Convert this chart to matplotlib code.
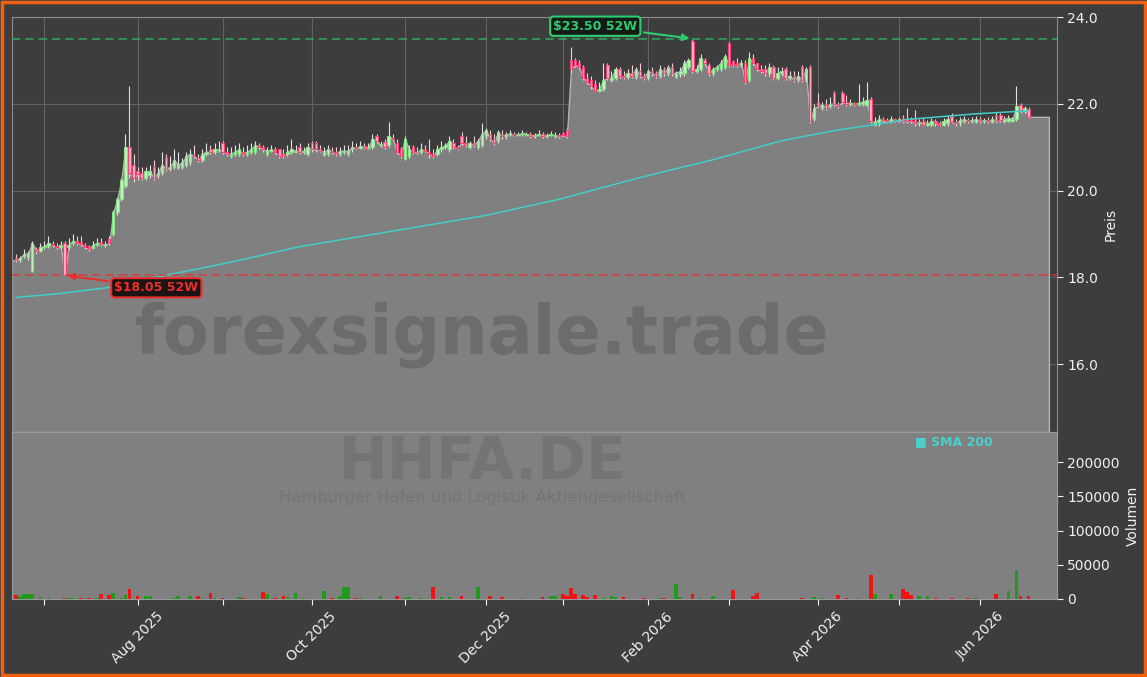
import numpy as np
import pandas as pd
import matplotlib
matplotlib.use("Agg")
import matplotlib.pyplot as plt
from matplotlib.patches import Rectangle
from matplotlib.ticker import FixedLocator, FixedFormatter, FuncFormatter

# ---------------- data ----------------
start_date = "2025-06-20"
end_date = "2026-06-17"
holidays = ["2025-12-24", "2025-12-25", "2025-12-26", "2025-12-31",
            "2026-01-01", "2026-04-03", "2026-04-06", "2026-05-01"]

open_ = [
    18.45, 18.40, 18.50, 18.48, 18.14, 18.65, 18.62, 18.70, 18.72, 18.78,
    18.72, 18.70, 18.80, 18.70, 18.80, 18.85, 18.82, 18.75, 18.72, 18.68,
    18.75, 18.82, 18.75, 18.88, 19.00, 19.50, 19.80, 20.10, 21.00, 20.60,
    20.45, 20.40, 20.30, 20.35, 20.55, 20.35, 20.40, 20.78, 20.50, 20.55,
    20.52, 20.55, 20.60, 20.65, 20.82, 20.75, 20.70, 20.85, 20.95, 20.88,
    20.95, 21.10, 20.90, 20.80, 20.85, 20.85, 20.90, 20.85, 20.90, 20.90,
    21.05, 21.00, 20.85, 20.92, 20.95, 20.95, 20.85, 20.85, 20.90, 20.88,
    21.00, 20.90, 20.85, 21.10, 21.10, 20.95, 20.82, 20.85, 20.92, 20.90,
    20.85, 20.88, 20.85, 20.95, 21.00, 20.98, 21.02, 20.98, 21.00, 21.25,
    21.05, 21.12, 21.05, 21.22, 21.10, 20.95, 20.72, 20.80, 21.00, 20.90,
    20.88, 20.95, 20.90, 20.85, 20.85, 20.95, 21.00, 20.95, 21.10, 21.00,
    21.25, 21.10, 21.00, 21.10, 21.00, 21.05, 21.25, 21.30, 21.20, 21.15,
    21.30, 21.25, 21.30, 21.30, 21.28, 21.30, 21.28, 21.30, 21.25, 21.28,
    21.30, 21.25, 21.28, 21.25, 21.28, 21.32, 21.40, 23.00, 23.00, 22.95,
    22.85, 22.60, 22.55, 22.45, 22.30, 22.35, 22.90, 22.55, 22.60, 22.80,
    22.65, 22.62, 22.70, 22.62, 22.75, 22.65, 22.60, 22.75, 22.72, 22.65,
    22.80, 22.70, 22.85, 22.62, 22.68, 22.70, 22.85, 23.45, 22.75, 22.80,
    23.00, 22.90, 22.70, 22.80, 22.80, 22.85, 23.40, 22.98, 22.95, 22.90,
    22.95, 22.55, 23.05, 22.95, 22.80, 22.80, 22.70, 22.85, 22.60, 22.70,
    22.80, 22.60, 22.65, 22.55, 22.85, 22.55, 22.85, 21.65, 22.05, 21.90,
    22.00, 21.95, 22.25, 22.00, 22.25, 22.05, 22.00, 22.02, 22.00, 22.00,
    21.98, 22.10, 21.52, 21.55, 21.65, 21.62, 21.60, 21.65, 21.62, 21.68,
    21.65, 21.65, 21.65, 21.55, 21.60, 21.52, 21.52, 21.60, 21.55, 21.52,
    21.55, 21.72, 21.58, 21.55, 21.60, 21.62, 21.60, 21.58, 21.65, 21.60,
    21.62, 21.58, 21.75, 21.75, 21.60, 21.60, 21.60, 21.65, 21.98, 21.85,
    21.88,
]

close = [
    18.40, 18.45, 18.55, 18.55, 18.80, 18.60, 18.70, 18.72, 18.80, 18.75,
    18.70, 18.75, 18.05, 18.75, 18.85, 18.80, 18.78, 18.70, 18.65, 18.75,
    18.80, 18.78, 18.75, 18.80, 19.50, 19.80, 20.25, 21.00, 20.40, 20.30,
    20.38, 20.30, 20.45, 20.45, 20.30, 20.40, 20.60, 20.50, 20.55, 20.70,
    20.60, 20.65, 20.80, 20.85, 20.80, 20.70, 20.85, 20.90, 20.88, 20.95,
    20.95, 20.90, 20.85, 20.85, 20.90, 20.95, 20.85, 20.90, 20.95, 21.05,
    21.00, 20.95, 20.92, 20.95, 20.88, 20.80, 20.80, 20.90, 20.95, 20.92,
    20.90, 20.92, 21.00, 20.95, 20.95, 20.92, 20.90, 20.95, 20.90, 20.85,
    20.92, 20.92, 20.92, 21.00, 20.98, 21.02, 20.98, 21.00, 21.20, 21.15,
    21.05, 21.00, 21.25, 21.20, 20.90, 20.80, 21.20, 20.95, 20.90, 20.88,
    20.95, 20.92, 20.85, 20.80, 20.95, 21.00, 21.05, 21.15, 21.00, 20.98,
    21.10, 21.05, 21.10, 21.05, 21.15, 21.30, 21.40, 21.20, 21.10, 21.35,
    21.25, 21.30, 21.30, 21.28, 21.30, 21.32, 21.30, 21.25, 21.28, 21.30,
    21.25, 21.28, 21.30, 21.28, 21.25, 21.28, 21.25, 22.80, 22.90, 22.85,
    22.60, 22.50, 22.40, 22.30, 22.35, 22.55, 22.60, 22.60, 22.80, 22.65,
    22.62, 22.70, 22.65, 22.80, 22.65, 22.60, 22.75, 22.72, 22.65, 22.80,
    22.70, 22.85, 22.70, 22.72, 22.75, 22.95, 23.00, 22.75, 22.80, 23.05,
    22.95, 22.70, 22.80, 22.85, 22.95, 23.10, 22.90, 22.90, 22.90, 22.95,
    22.50, 23.05, 22.95, 22.80, 22.75, 22.70, 22.85, 22.60, 22.70, 22.75,
    22.60, 22.65, 22.55, 22.65, 22.55, 22.80, 21.60, 21.90, 21.95, 21.98,
    21.90, 22.00, 22.00, 21.95, 22.05, 22.00, 22.02, 22.00, 22.02, 22.05,
    22.08, 21.60, 21.58, 21.65, 21.62, 21.60, 21.65, 21.62, 21.62, 21.60,
    21.60, 21.60, 21.55, 21.58, 21.52, 21.55, 21.60, 21.55, 21.52, 21.60,
    21.65, 21.58, 21.55, 21.62, 21.65, 21.60, 21.62, 21.65, 21.60, 21.62,
    21.60, 21.65, 21.60, 21.62, 21.65, 21.68, 21.65, 21.95, 21.85, 21.90,
    21.70,
]

high = [
    18.55, 18.50, 18.65, 18.60, 18.85, 18.70, 18.80, 18.85, 18.95, 18.85,
    18.80, 18.85, 18.85, 18.90, 19.00, 18.95, 18.95, 18.80, 18.75, 18.85,
    18.90, 18.90, 18.85, 18.95, 19.55, 19.85, 20.30, 21.30, 22.40, 20.85,
    20.55, 20.55, 20.55, 20.60, 20.70, 20.55, 20.90, 20.85, 20.80, 20.95,
    20.90, 20.75, 20.90, 20.95, 21.05, 20.85, 20.95, 21.10, 21.05, 21.10,
    21.15, 21.15, 21.00, 21.00, 21.05, 21.10, 21.00, 21.05, 21.10, 21.15,
    21.10, 21.05, 21.00, 21.05, 21.00, 20.95, 20.95, 21.05, 21.20, 21.05,
    21.10, 21.00, 21.10, 21.15, 21.15, 21.05, 21.00, 21.05, 21.00, 21.00,
    21.00, 21.05, 21.05, 21.15, 21.10, 21.15, 21.10, 21.10, 21.30, 21.30,
    21.15, 21.20, 21.58, 21.30, 21.20, 21.00, 21.25, 21.05, 21.05, 21.00,
    21.10, 21.05, 21.20, 20.95, 21.05, 21.15, 21.10, 21.25, 21.20, 21.05,
    21.35, 21.25, 21.15, 21.25, 21.20, 21.55, 21.45, 21.40, 21.30, 21.40,
    21.40, 21.35, 21.40, 21.35, 21.35, 21.40, 21.35, 21.35, 21.32, 21.40,
    21.35, 21.32, 21.38, 21.35, 21.32, 21.35, 21.45, 23.30, 23.05, 23.00,
    22.90, 22.70, 22.65, 22.55, 22.50, 22.95, 22.95, 22.75, 22.85, 22.85,
    22.75, 22.80, 22.90, 22.85, 22.95, 22.70, 22.80, 22.85, 22.75, 22.90,
    22.85, 22.90, 22.95, 22.75, 22.85, 23.00, 23.05, 23.50, 22.90, 23.15,
    23.05, 22.95, 22.85, 22.90, 23.00, 23.15, 23.42, 23.00, 23.05, 23.00,
    23.00, 23.20, 23.15, 22.95, 22.90, 22.90, 22.95, 22.90, 22.85, 22.85,
    22.85, 22.75, 22.75, 22.75, 22.90, 22.85, 22.90, 22.00, 22.25, 22.05,
    22.10, 22.15, 22.30, 22.05, 22.30, 22.20, 22.10, 22.05, 22.45, 22.15,
    22.50, 22.15, 21.70, 21.75, 21.70, 21.68, 21.72, 21.68, 21.70, 21.75,
    21.90, 21.70, 21.85, 21.65, 21.68, 21.62, 21.68, 21.65, 21.60, 21.68,
    21.72, 21.80, 21.65, 21.70, 21.72, 21.68, 21.70, 21.72, 21.70, 21.68,
    21.70, 21.72, 21.82, 21.80, 21.72, 21.75, 21.70, 22.40, 22.02, 21.95,
    21.92,
]

low = [
    18.35, 18.35, 18.45, 18.40, 18.12, 18.55, 18.58, 18.65, 18.68, 18.70,
    18.65, 18.65, 18.05, 18.65, 18.75, 18.75, 18.72, 18.65, 18.60, 18.65,
    18.72, 18.72, 18.70, 18.75, 18.95, 19.45, 19.75, 20.05, 20.30, 20.20,
    20.25, 20.25, 20.25, 20.30, 20.25, 20.30, 20.35, 20.45, 20.45, 20.50,
    20.50, 20.50, 20.55, 20.60, 20.75, 20.65, 20.65, 20.80, 20.85, 20.85,
    20.90, 20.85, 20.80, 20.75, 20.80, 20.80, 20.80, 20.80, 20.85, 20.85,
    20.95, 20.90, 20.80, 20.88, 20.85, 20.75, 20.75, 20.80, 20.85, 20.88,
    20.85, 20.85, 20.80, 20.90, 20.90, 20.88, 20.80, 20.80, 20.85, 20.80,
    20.80, 20.85, 20.80, 20.90, 20.95, 20.95, 20.95, 20.95, 20.95, 21.10,
    21.00, 20.95, 21.00, 21.15, 20.85, 20.75, 20.70, 20.75, 20.85, 20.85,
    20.85, 20.88, 20.75, 20.75, 20.80, 20.90, 20.95, 20.90, 20.95, 20.95,
    21.05, 21.00, 20.95, 21.00, 20.95, 21.00, 21.20, 21.15, 21.05, 21.10,
    21.20, 21.20, 21.25, 21.25, 21.25, 21.25, 21.25, 21.22, 21.22, 21.25,
    21.22, 21.22, 21.25, 21.22, 21.22, 21.25, 21.22, 22.70, 22.85, 22.80,
    22.55, 22.45, 22.35, 22.28, 22.28, 22.30, 22.55, 22.50, 22.55, 22.60,
    22.58, 22.58, 22.60, 22.58, 22.60, 22.55, 22.55, 22.65, 22.60, 22.60,
    22.65, 22.65, 22.65, 22.60, 22.62, 22.65, 22.80, 22.70, 22.70, 22.75,
    22.90, 22.65, 22.65, 22.75, 22.75, 22.80, 22.85, 22.85, 22.85, 22.85,
    22.45, 22.50, 22.90, 22.75, 22.70, 22.65, 22.65, 22.55, 22.55, 22.65,
    22.55, 22.55, 22.50, 22.50, 22.50, 22.50, 21.55, 21.60, 21.90, 21.85,
    21.85, 21.90, 21.95, 21.90, 22.00, 21.95, 21.95, 21.95, 21.95, 21.95,
    21.95, 21.55, 21.50, 21.50, 21.58, 21.55, 21.55, 21.58, 21.58, 21.55,
    21.55, 21.55, 21.50, 21.50, 21.48, 21.48, 21.48, 21.50, 21.48, 21.48,
    21.50, 21.55, 21.50, 21.50, 21.55, 21.55, 21.55, 21.55, 21.55, 21.55,
    21.55, 21.55, 21.55, 21.58, 21.55, 21.58, 21.58, 21.60, 21.80, 21.80,
    21.68,
]

volume = [
    6000, 5000, 7000, 8000, 8000, 0, 3000, 0, 1000, 0,
    0, 0, 1500, 2000, 1000, 0, 1000, 0, 1000, 0,
    1500, 7000, 0, 6000, 9000, 0, 2000, 6000, 14500, 0,
    4000, 0, 5000, 5000, 0, 0, 0, 0, 0, 1000,
    5000, 0, 0, 5000, 0, 4000, 2000, 0, 9000, 1500,
    0, 1500, 0, 0, 0, 2500, 2000, 0, 0, 0,
    0, 10000, 7000, 0, 1000, 0, 4000, 2500, 0, 8500,
    0, 1500, 0, 0, 0, 0, 11000, 0, 1500, 0,
    4000, 17000, 17000, 0, 2000, 1500, 0, 0, 0, 0,
    4000, 0, 0, 0, 4000, 0, 2000, 3000, 0, 0,
    2000, 0, 0, 17000, 0, 3000, 0, 3000, 0, 0,
    4000, 0, 0, 0, 18000, 0, 0, 4000, 0, 0,
    3000, 0, 0, 0, 0, 2000, 0, 0, 0, 0,
    3000, 0, 4000, 5000, 0, 8000, 5000, 16000, 8000, 0,
    6000, 3000, 0, 6000, 0, 2000, 0, 4000, 3000, 0,
    3000, 0, 0, 0, 0, 2000, 0, 0, 0, 2000,
    2000, 0, 0, 22000, 3000, 0, 0, 8000, 0, 2000,
    0, 0, 4000, 0, 0, 0, 0, 13000, 0, 0,
    0, 0, 5000, 9000, 0, 0, 0, 0, 0, 0,
    0, 0, 0, 0, 2000, 0, 0, 3000, 0, 2000,
    0, 0, 0, 6000, 0, 2000, 0, 0, 2000, 0,
    0, 35000, 7000, 0, 0, 0, 7000, 0, 0, 15000,
    10000, 6000, 0, 4000, 0, 4000, 0, 1500, 0, 0,
    0, 2000, 0, 0, 0, 1500, 0, 1500, 0, 0,
    0, 0, 7000, 0, 0, 12000, 0, 42000, 4000, 0,
    4000,
]

sma_dates = ["2025-06-20", "2025-07-07", "2025-07-23", "2025-08-12", "2025-09-03",
             "2025-09-26", "2025-10-31", "2025-12-01", "2025-12-30", "2026-01-29",
             "2026-02-24", "2026-03-19", "2026-04-10", "2026-04-23", "2026-05-06",
             "2026-05-29", "2026-06-17"]
sma_values = [17.54, 17.63, 17.77, 18.05, 18.35, 18.71, 19.10, 19.43, 19.80, 20.30,
              20.71, 21.15, 21.40, 21.52, 21.64, 21.77, 21.84]

ticker = "HHFA.DE"
company = "Hamburger Hafen und Logistik Aktiengesellschaft"
watermark = "forexsignale.trade"
sma_label = "SMA 200"

# ---------------- calendar ----------------
dates = pd.bdate_range(start_date, end_date)
dates = dates[~dates.isin(pd.to_datetime(holidays))]
N = len(dates)
x = np.arange(N)
o = np.array(open_)
c = np.array(close)
h = np.array(high)
l = np.array(low)
v = np.array(volume)

# ---------------- style ----------------
BG = "#3d3d3d"
FILL = "#808080"
TXT = "#f0f0f0"
up_edge, up_face = "#86e086", "#c2f2c2"
dn_edge, dn_face = "#ff3f73", "#ffb3c6"

fig = plt.figure(figsize=(11.47, 6.77), dpi=100, facecolor=BG)
L, R = 12 / 1147, 1057 / 1147
top_p, mid, bot = 1 - 17 / 677, 1 - 432 / 677, 1 - 599 / 677
ax = fig.add_axes([L, mid, R - L, top_p - mid], facecolor=BG)
axv = fig.add_axes([L, bot, R - L, mid - bot], facecolor=FILL, sharex=ax)

# price area
ylo, yhi = l.min() * 0.8, h.max() * 1.02
xa = np.concatenate([[-1], x, [N + 4]])
ca = np.concatenate([[c[0]], c, [c[-1]]])
ax.fill_between(xa, ylo, ca, facecolor=FILL, edgecolor="#b4b4b4", linewidth=1.0, zorder=1)

# candles
up = c >= o
ax.vlines(x[up], l[up], h[up], color="#e2e2e2", linewidth=0.8, zorder=2)
ax.vlines(x[~up], l[~up], h[~up], color="#f2cdd6", linewidth=0.8, zorder=2)
body_lo = np.minimum(o, c)
body_h = np.maximum(np.abs(c - o), 0.02)
ax.bar(x[up], body_h[up], bottom=body_lo[up], width=0.6, facecolor=up_face,
       edgecolor=up_edge, linewidth=0.8, zorder=3)
ax.bar(x[~up], body_h[~up], bottom=body_lo[~up], width=0.6, facecolor=dn_face,
       edgecolor=dn_edge, linewidth=0.8, zorder=3)

# SMA
sma_x = np.searchsorted(dates, pd.to_datetime(sma_dates))
ax.plot(sma_x, sma_values, color="#40d0c8", linewidth=1.1, zorder=4)

# 52W lines + annotations
i_hi, i_lo = int(np.argmax(h)), int(np.argmin(l))
hi_v, lo_v = h[i_hi], l[i_lo]
ax.axhline(hi_v, color="#2fb35f", linestyle=(0, (5, 3)), linewidth=1.2, alpha=0.85, zorder=5)
ax.axhline(lo_v, color="#d83a3a", linestyle=(0, (5, 3)), linewidth=1.2, alpha=0.85, zorder=5)
ax.annotate(f"${hi_v:.2f} 52W", xy=(i_hi, hi_v), xytext=(-70, 9), textcoords="offset points",
            ha="center", va="center", color="#2ecc71", fontsize=9, fontweight="bold",
            bbox=dict(boxstyle="round,pad=0.25", fc="#141a14", ec="#2ecc71", lw=1.5),
            arrowprops=dict(arrowstyle="-|>", color="#2ecc71", lw=1.5, mutation_scale=10), zorder=6)
ax.annotate(f"${lo_v:.2f} 52W", xy=(i_lo, lo_v), xytext=(66, -9), textcoords="offset points",
            ha="center", va="center", color="#e8302a", fontsize=9, fontweight="bold",
            bbox=dict(boxstyle="round,pad=0.25", fc="#1c1414", ec="#e8302a", lw=1.5),
            arrowprops=dict(arrowstyle="-|>", color="#e8302a", lw=1.5, mutation_scale=10), zorder=6)

ax.text(0.45, 0.235, watermark, transform=ax.transAxes, ha="center", va="center",
        fontsize=48, fontweight="bold", color="#6c6c6c", zorder=1.5)

ax.set_ylim(ylo, yhi)
ax.set_xlim(-1, N + 6)
ax.yaxis.tick_right()
ax.yaxis.set_label_position("right")
ax.set_yticks([16, 18, 20, 22, 24])
ax.yaxis.set_major_formatter(FuncFormatter(lambda val, pos: f"{val:.1f}"))
ax.set_ylabel("Preis", color=TXT, fontsize=10)
ax.tick_params(axis="y", colors=TXT, labelsize=10, length=4)
ax.tick_params(axis="x", length=0, labelbottom=False)
ax.grid(True, color="#626262", linewidth=0.8)
ax.set_axisbelow(True)
for s in ax.spines.values():
    s.set_color("#8c8c8c")

# volume
vcol = np.where(up, "#1f9a1f", "#f01414")
axv.bar(x, v, width=0.9, color=vcol, zorder=3)
axv.set_ylim(0, 244000)
axv.yaxis.tick_right()
axv.yaxis.set_label_position("right")
axv.set_yticks([0, 50000, 100000, 150000, 200000])
axv.yaxis.set_major_formatter(FuncFormatter(lambda val, pos: f"{int(val)}"))
axv.set_ylabel("Volumen", color=TXT, fontsize=10)
axv.tick_params(axis="y", colors=TXT, labelsize=10, length=4)
for s in axv.spines.values():
    s.set_color("#9a9a9a")

axv.text(0.45, 0.815, ticker, transform=axv.transAxes, ha="center", va="center",
         fontsize=42, fontweight="bold", color="#747474", zorder=1)
axv.text(0.45, 0.61, company, transform=axv.transAxes, ha="center", va="center",
         fontsize=11.8, color="#747474", zorder=1)
axv.text(0.864, 0.94, "\u25a0 " + sma_label, transform=axv.transAxes, ha="left", va="center",
         fontsize=9, fontweight="bold", color="#48d1cc", zorder=5)

# month ticks
month_starts = pd.date_range(dates[0], dates[-1], freq="MS")
tick_pos, tick_lab = [], []
for m in month_starts:
    idx = int(np.searchsorted(dates, m))
    tick_pos.append(idx)
    tick_lab.append(m.strftime("%b %Y") if m.month % 2 == 0 else "")
axv.xaxis.set_major_locator(FixedLocator(tick_pos))
axv.xaxis.set_major_formatter(FixedFormatter(tick_lab))
axv.tick_params(axis="x", colors=TXT, labelsize=10, length=4, rotation=45)
ax.xaxis.set_major_locator(FixedLocator(tick_pos))

# orange frame
fig.patches.append(Rectangle((0.0015, 0.0025), 0.997, 0.995, transform=fig.transFigure,
                             fill=False, edgecolor="#f0620f", linewidth=2.5, zorder=10))

fig.savefig("out.png", dpi=100, facecolor=BG)
